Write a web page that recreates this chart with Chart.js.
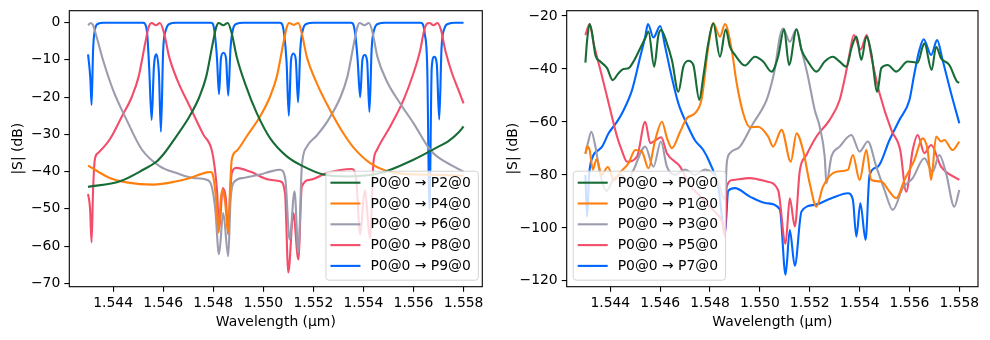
<!DOCTYPE html>
<html>
<head>
<meta charset="utf-8">
<script src="https://cdn.jsdelivr.net/npm/chart.js@4.4.0/dist/chart.umd.min.js"></script>
<style>
  body { margin: 0; background: #fff; }
  canvas { position: absolute; top: 0; }
</style>
</head>
<body>
<canvas id="left" width="495" height="340" style="left:0"></canvas>
<canvas id="right" width="495" height="340" style="left:495px"></canvas>
<script>
// tick values
const xTicks = [1.544, 1.546, 1.548, 1.550, 1.552, 1.554, 1.556, 1.558];
const leftYTicks = [0, -10, -20, -30, -40, -50, -60, -70];
const rightYTicks = [-20, -40, -60, -80, -100, -120];

const leftLabels = ["P0@0 → P2@0", "P0@0 → P4@0", "P0@0 → P6@0", "P0@0 → P8@0", "P0@0 → P9@0"];
const rightLabels = ["P0@0 → P0@0", "P0@0 → P1@0", "P0@0 → P3@0", "P0@0 → P5@0", "P0@0 → P7@0"];
const colors = ["#176c36", "#ff7f0e", "#9c9caf", "#f24d6a", "#0066ff"];

// left panel, [wavelength (um), |S| (dB)]
const lp2 = [[1.54300,-44.1],[1.54427,-42.6],[1.54520,-39.5],[1.54574,-37.3],[1.54610,-34.6],[1.54650,-30.8],[1.54705,-25.2],[1.54745,-19.9],[1.54772,-14.5],[1.54798,-5.6],[1.54812,-1.2],[1.54822,-0.1],[1.54840,-0.7],[1.54858,-0.1],[1.54874,-2.9],[1.54894,-9.2],[1.54927,-16.3],[1.54974,-24.3],[1.55027,-31.0],[1.55094,-35.9],[1.55160,-38.6],[1.55240,-40.8],[1.55334,-41.3],[1.55467,-40.4],[1.55600,-36.8],[1.55694,-33.5],[1.55740,-31.8],[1.55780,-29.5],[1.55800,-27.9]];
const lp4 = [[1.54300,-38.4],[1.54387,-41.7],[1.54454,-42.9],[1.54560,-43.5],[1.54654,-42.6],[1.54707,-41.7],[1.54774,-40.2],[1.54790,-40.1],[1.54800,-41.3],[1.54811,-47.0],[1.54822,-56.4],[1.54830,-47.5],[1.54838,-44.9],[1.54848,-48.5],[1.54860,-56.4],[1.54867,-45.0],[1.54874,-36.8],[1.54894,-34.4],[1.54934,-30.5],[1.54987,-25.2],[1.55027,-19.9],[1.55054,-14.5],[1.55080,-5.6],[1.55094,-1.2],[1.55103,-0.1],[1.55122,-0.6],[1.55140,-0.1],[1.55154,-2.9],[1.55174,-9.2],[1.55214,-16.3],[1.55267,-23.5],[1.55320,-29.7],[1.55360,-33.5],[1.55427,-37.7],[1.55534,-40.4],[1.55654,-40.8],[1.55800,-41.1]];
const lp6 = [[1.54300,-0.7],[1.54310,-0.1],[1.54320,-0.7],[1.54334,-3.8],[1.54360,-10.1],[1.54400,-18.1],[1.54454,-26.1],[1.54514,-34.0],[1.54587,-38.6],[1.54654,-40.4],[1.54720,-41.7],[1.54774,-42.2],[1.54794,-44.0],[1.54808,-50.0],[1.54823,-62.2],[1.54840,-51.1],[1.54860,-62.7],[1.54869,-48.0],[1.54880,-43.1],[1.54920,-41.7],[1.54987,-40.8],[1.55027,-40.0],[1.55067,-39.5],[1.55088,-42.0],[1.55105,-58.2],[1.55125,-45.3],[1.55140,-61.8],[1.55154,-38.6],[1.55174,-33.3],[1.55214,-30.3],[1.55260,-26.1],[1.55309,-19.9],[1.55336,-14.5],[1.55362,-5.6],[1.55376,-1.2],[1.55385,-0.1],[1.55404,-0.7],[1.55422,-0.1],[1.55436,-2.5],[1.55456,-9.2],[1.55494,-15.8],[1.55547,-21.7],[1.55600,-27.0],[1.55667,-34.2],[1.55694,-35.9],[1.55760,-38.6],[1.55800,-40.0]];
const lp8 = [[1.54300,-46.0],[1.54308,-50.0],[1.54314,-59.0],[1.54320,-45.0],[1.54327,-36.8],[1.54340,-35.0],[1.54387,-31.3],[1.54435,-25.2],[1.54475,-19.9],[1.54502,-14.5],[1.54528,-5.6],[1.54542,-1.2],[1.54554,-0.1],[1.54571,-0.7],[1.54587,-0.1],[1.54604,-2.9],[1.54624,-9.2],[1.54657,-15.5],[1.54707,-22.6],[1.54760,-30.0],[1.54794,-34.2],[1.54807,-39.5],[1.54815,-45.0],[1.54824,-55.5],[1.54838,-44.4],[1.54850,-47.0],[1.54860,-56.9],[1.54868,-46.0],[1.54874,-40.4],[1.54894,-39.0],[1.54947,-40.0],[1.55027,-42.2],[1.55067,-42.6],[1.55087,-46.0],[1.55100,-67.1],[1.55120,-51.1],[1.55140,-63.6],[1.55154,-44.0],[1.55187,-42.2],[1.55254,-40.4],[1.55354,-39.3],[1.55371,-42.0],[1.55387,-56.9],[1.55405,-45.0],[1.55427,-57.8],[1.55440,-37.7],[1.55454,-34.2],[1.55507,-27.9],[1.55560,-20.8],[1.55600,-13.6],[1.55627,-7.4],[1.55643,-2.0],[1.55654,-0.3],[1.55664,-0.1],[1.55680,-0.7],[1.55696,-0.1],[1.55710,-2.0],[1.55727,-7.4],[1.55754,-13.6],[1.55780,-18.1],[1.55800,-21.7]];
const lp9 = [[1.54300,-8.5],[1.54309,-15.0],[1.54314,-22.1],[1.54320,-7.4],[1.54327,-2.0],[1.54340,-0.3],[1.54360,-0.05],
  [1.54520,-0.05],[1.54527,-0.3],[1.54536,-2.9],[1.54544,-11.9],[1.54554,-26.1],[1.54563,-11.9],[1.54573,-8.5],[1.54583,-13.6],[1.54591,-29.3],[1.54600,-7.4],[1.54611,-2.0],[1.54627,-0.3],[1.54650,-0.05],
  [1.54790,-0.05],[1.54798,-0.3],[1.54806,-2.9],[1.54815,-9.5],[1.54823,-19.2],[1.54831,-9.5],[1.54841,-8.1],[1.54851,-9.5],[1.54860,-19.6],[1.54869,-7.0],[1.54880,-1.5],[1.54894,-0.3],[1.54920,-0.05],
  [1.55065,-0.05],[1.55074,-0.3],[1.55083,-2.9],[1.55093,-10.5],[1.55102,-25.0],[1.55111,-10.0],[1.55120,-8.3],[1.55130,-10.0],[1.55139,-21.4],[1.55148,-7.0],[1.55160,-1.5],[1.55174,-0.3],[1.55200,-0.05],
  [1.55350,-0.05],[1.55358,-0.3],[1.55367,-2.9],[1.55377,-10.0],[1.55387,-20.0],[1.55396,-10.0],[1.55405,-8.7],[1.55415,-10.5],[1.55424,-24.0],[1.55433,-7.0],[1.55445,-1.5],[1.55460,-0.3],[1.55485,-0.05],
  [1.55628,-0.05],[1.55636,-0.3],[1.55645,-2.9],[1.55655,-12.0],[1.55664,-50.0],[1.55673,-12.0],[1.55683,-9.2],[1.55693,-11.0],[1.55703,-26.0],[1.55712,-7.0],[1.55724,-1.5],[1.55740,-0.3],[1.55765,-0.05],[1.55800,-0.05]];

// right panel
const rp0 = [[1.54300,-37.6],[1.54307,-29.1],[1.54317,-23.0],[1.54327,-26.5],[1.54340,-34.7],[1.54360,-37.2],[1.54387,-39.7],[1.54409,-44.2],[1.54433,-41.6],[1.54453,-40.0],[1.54473,-39.7],[1.54493,-37.2],[1.54520,-32.2],[1.54540,-28.4],[1.54553,-25.9],[1.54576,-39.1],[1.54593,-27.2],[1.54604,-25.3],[1.54627,-30.3],[1.54647,-36.6],[1.54673,-48.6],[1.54693,-39.1],[1.54713,-36.9],[1.54733,-38.5],[1.54757,-51.7],[1.54773,-42.9],[1.54793,-30.3],[1.54813,-22.8],[1.54840,-35.4],[1.54863,-25.0],[1.54880,-31.6],[1.54900,-34.7],[1.54940,-38.7],[1.54980,-35.4],[1.55013,-37.2],[1.55047,-41.0],[1.55073,-35.4],[1.55097,-25.0],[1.55117,-38.5],[1.55147,-25.0],[1.55167,-32.8],[1.55193,-37.2],[1.55227,-41.0],[1.55260,-37.2],[1.55293,-35.4],[1.55320,-37.2],[1.55347,-39.1],[1.55369,-31.6],[1.55387,-27.8],[1.55407,-36.6],[1.55427,-27.8],[1.55447,-34.1],[1.55471,-48.6],[1.55487,-39.7],[1.55513,-38.5],[1.55547,-41.0],[1.55593,-37.2],[1.55633,-37.6],[1.55653,-31.6],[1.55660,-30.3],[1.55689,-40.4],[1.55707,-31.6],[1.55727,-36.0],[1.55760,-38.5],[1.55791,-44.8],[1.55800,-45.2]];
const rp1 = [[1.54300,-72.0],[1.54307,-69.3],[1.54317,-70.6],[1.54330,-78.0],[1.54345,-74.0],[1.54365,-80.0],[1.54390,-77.0],[1.54415,-82.0],[1.54440,-79.0],[1.54473,-75.6],[1.54500,-70.6],[1.54527,-71.2],[1.54553,-77.5],[1.54580,-66.8],[1.54607,-59.9],[1.54627,-66.0],[1.54647,-69.9],[1.54680,-63.7],[1.54707,-58.6],[1.54740,-56.7],[1.54767,-51.0],[1.54793,-31.6],[1.54813,-22.8],[1.54840,-27.8],[1.54860,-23.0],[1.54887,-32.8],[1.54907,-45.4],[1.54933,-56.7],[1.54960,-62.0],[1.54993,-61.8],[1.55033,-65.5],[1.55053,-69.3],[1.55087,-63.0],[1.55124,-75.0],[1.55147,-64.3],[1.55173,-70.6],[1.55200,-83.2],[1.55227,-92.0],[1.55253,-84.4],[1.55307,-78.8],[1.55353,-78.1],[1.55373,-72.5],[1.55400,-81.9],[1.55427,-70.6],[1.55447,-81.9],[1.55487,-82.5],[1.55520,-86.3],[1.55547,-88.8],[1.55580,-81.9],[1.55620,-74.3],[1.55653,-66.2],[1.55673,-70.6],[1.55687,-81.9],[1.55707,-65.5],[1.55727,-67.4],[1.55740,-66.8],[1.55773,-70.6],[1.55800,-67.4]];
const rp3 = [[1.54300,-72.0],[1.54310,-68.0],[1.54324,-63.7],[1.54340,-69.3],[1.54360,-80.0],[1.54385,-86.0],[1.54410,-82.0],[1.54440,-80.0],[1.54470,-82.0],[1.54493,-78.1],[1.54540,-69.3],[1.54573,-76.9],[1.54603,-67.4],[1.54627,-76.9],[1.54660,-80.0],[1.54700,-78.0],[1.54740,-80.0],[1.54780,-78.0],[1.54830,-82.0],[1.54850,-88.0],[1.54860,-89.4],[1.54867,-75.6],[1.54880,-71.8],[1.54920,-69.3],[1.54973,-60.5],[1.55007,-55.5],[1.55027,-51.7],[1.55047,-45.4],[1.55060,-40.0],[1.55080,-27.8],[1.55093,-24.7],[1.55120,-29.7],[1.55147,-25.0],[1.55167,-32.8],[1.55193,-42.9],[1.55220,-55.5],[1.55240,-61.8],[1.55260,-73.1],[1.55267,-83.2],[1.55287,-73.1],[1.55320,-69.3],[1.55367,-64.9],[1.55400,-71.2],[1.55433,-67.4],[1.55467,-76.9],[1.55500,-85.7],[1.55533,-93.2],[1.55573,-85.0],[1.55613,-81.2],[1.55660,-73.7],[1.55693,-78.8],[1.55720,-72.5],[1.55747,-79.4],[1.55780,-92.0],[1.55800,-85.7]];
const rp5 = [[1.54300,-27.2],[1.54317,-23.0],[1.54333,-30.3],[1.54367,-42.9],[1.54400,-55.5],[1.54427,-65.5],[1.54447,-71.0],[1.54467,-75.0],[1.54507,-73.1],[1.54540,-59.9],[1.54560,-68.0],[1.54580,-67.0],[1.54604,-65.8],[1.54627,-71.8],[1.54680,-76.9],[1.54720,-84.0],[1.54760,-88.0],[1.54800,-92.0],[1.54830,-95.0],[1.54850,-98.0],[1.54860,-103.3],[1.54867,-84.4],[1.54893,-81.9],[1.54960,-81.2],[1.55027,-82.5],[1.55073,-85.7],[1.55103,-106.0],[1.55120,-88.8],[1.55140,-99.5],[1.55160,-78.5],[1.55187,-72.5],[1.55227,-65.5],[1.55280,-59.2],[1.55320,-51.7],[1.55344,-42.0],[1.55360,-34.1],[1.55377,-27.2],[1.55404,-32.6],[1.55429,-27.2],[1.55447,-35.4],[1.55480,-49.2],[1.55527,-63.0],[1.55563,-70.6],[1.55587,-86.3],[1.55613,-70.6],[1.55633,-64.9],[1.55660,-71.8],[1.55687,-68.7],[1.55727,-76.9],[1.55800,-81.9]];
const rp7 = [[1.54300,-80.0],[1.54307,-95.7],[1.54315,-80.0],[1.54330,-73.0],[1.54353,-70.6],[1.54367,-69.3],[1.54393,-64.3],[1.54427,-59.9],[1.54447,-56.7],[1.54487,-48.0],[1.54520,-35.4],[1.54540,-27.8],[1.54551,-23.0],[1.54573,-28.1],[1.54600,-23.8],[1.54620,-31.6],[1.54640,-40.4],[1.54673,-53.0],[1.54713,-62.0],[1.54740,-67.0],[1.54773,-70.6],[1.54800,-75.6],[1.54833,-84.4],[1.54860,-102.0],[1.54873,-86.0],[1.54900,-85.0],[1.54960,-88.2],[1.55027,-90.7],[1.55080,-93.0],[1.55103,-117.7],[1.55120,-100.8],[1.55140,-114.3],[1.55167,-93.8],[1.55220,-91.3],[1.55287,-88.8],[1.55353,-86.9],[1.55373,-89.4],[1.55387,-103.3],[1.55403,-90.7],[1.55424,-104.5],[1.55440,-80.0],[1.55473,-76.9],[1.55520,-66.8],[1.55560,-59.2],[1.55600,-51.7],[1.55620,-41.6],[1.55640,-32.8],[1.55657,-28.8],[1.55687,-34.7],[1.55711,-29.1],[1.55733,-36.6],[1.55767,-49.2],[1.55800,-60.5]];

const FONT = 'DejaVu Sans';
Chart.defaults.font.family = FONT;
Chart.defaults.font.size = 13.9;
Chart.defaults.color = '#000';

// spines + matplotlib-like legend box drawn inside the plot area
function frameAndLegend(side) {
  return {
    id: 'frameAndLegend',
    afterDatasetsDraw(chart) {
      const ctx = chart.ctx, a = chart.chartArea;
      ctx.save();
      ctx.strokeStyle = '#000';
      ctx.lineWidth = 1.1;
      ctx.strokeRect(a.left, a.top, a.right - a.left, a.bottom - a.top);

      ctx.font = '13.9px "' + FONT + '"';
      const sets = chart.data.datasets;
      const tw = Math.max(...sets.map(d => ctx.measureText(d.label).width));
      const rowH = 20.8;
      const w = 44 + tw + 8, h = sets.length * rowH + 5;
      const x = side === 'right' ? a.right - 4 - w : a.left + 6.5;
      const y = a.bottom - 6.5 - h;
      ctx.beginPath();
      ctx.roundRect(x, y, w, h, 3);
      ctx.fillStyle = 'rgba(255,255,255,0.8)';
      ctx.fill();
      ctx.strokeStyle = '#d4d4d4';
      ctx.lineWidth = 1;
      ctx.stroke();
      ctx.textBaseline = 'middle';
      sets.forEach((d, i) => {
        const yy = y + 11.5 + i * rowH;
        ctx.strokeStyle = d.borderColor;
        ctx.lineWidth = 2.1;
        ctx.beginPath();
        ctx.moveTo(x + 4.5, yy);
        ctx.lineTo(x + 34.5, yy);
        ctx.stroke();
        ctx.fillStyle = '#000';
        ctx.fillText(d.label, x + 44.5, yy + 0.5);
      });
      ctx.restore();
    }
  };
}

function makeChart(id, labels, series, yMin, yMax, yTicks, yWidth, padRight, side) {
  new Chart(document.getElementById(id), {
    type: 'line',
    data: {
      datasets: series.map((s, i) => ({
        label: labels[i],
        data: s.map(p => ({x: p[0], y: p[1]})),
        borderColor: colors[i],
        borderWidth: 2.1,
        pointRadius: 0,
        cubicInterpolationMode: 'monotone',
        fill: false
      }))
    },
    options: {
      responsive: false,
      animation: false,
      devicePixelRatio: 1,
      layout: { padding: { left: 0, right: padRight, top: 10.7, bottom: 0 } },
      plugins: { legend: { display: false }, tooltip: { enabled: false } },
      scales: {
        x: {
          type: 'linear',
          min: 1.54225,
          max: 1.55875,
          afterBuildTicks: s => { s.ticks = xTicks.map(v => ({value: v})); },
          afterFit: s => { s.height = 53.3; s.paddingLeft = 0; s.paddingRight = 0; },
          ticks: { padding: 3, callback: v => v.toFixed(3), maxRotation: 0, autoSkip: false },
          grid: { drawOnChartArea: false, tickLength: 5, color: '#000', lineWidth: 1.1 },
          border: { display: false },
          title: { display: true, text: 'Wavelength (µm)', padding: { top: 0, bottom: 9.5 } }
        },
        y: {
          type: 'linear',
          min: yMin,
          max: yMax,
          afterBuildTicks: s => { s.ticks = yTicks.map(v => ({value: v})); },
          afterFit: s => { s.width = yWidth; s.paddingTop = 0; s.paddingBottom = 0; },
          ticks: { padding: 4, autoSkip: false, callback: v => String(v).replace('-', '\u2212') },
          grid: { drawOnChartArea: false, tickLength: 5, color: '#000', lineWidth: 1.1 },
          border: { display: false },
          title: { display: true, text: '|S| (dB)', padding: { top: 9.7, bottom: 0 } }
        }
      }
    },
    plugins: [frameAndLegend(side)]
  });
}

makeChart('left', leftLabels, [lp2, lp4, lp6, lp8, lp9], -70.9, 3.2, leftYTicks, 69.3, 12.7, 'right');
makeChart('right', rightLabels, [rp0, rp1, rp3, rp5, rp7], -122.2, -18.0, rightYTicks, 71.7, 12, 'left');
</script>
</body>
</html>
